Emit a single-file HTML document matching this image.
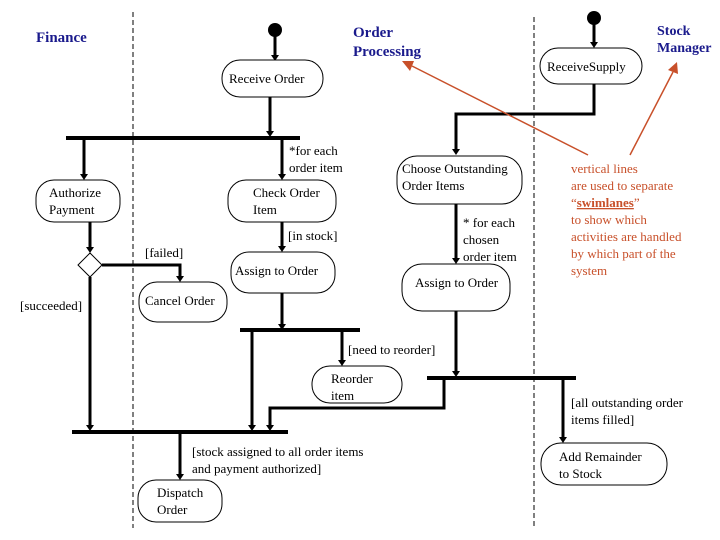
<!DOCTYPE html>
<html><head><meta charset="utf-8"><style>
html,body{margin:0;padding:0;background:#fff;width:720px;height:540px;overflow:hidden}
text{font-family:"Liberation Serif",serif;font-size:13px;fill:#000}
.t{font-weight:bold;fill:#1a1a8c;font-size:15px}
.r{fill:#c8502a}
</style></head><body>
<svg width="720" height="540" viewBox="0 0 720 540" xmlns="http://www.w3.org/2000/svg">
<defs><marker id="a" markerWidth="8" markerHeight="8" refX="4" refY="6" orient="auto" markerUnits="userSpaceOnUse"><path d="M0,0 L8,0 L4,7 z" fill="#000" transform="rotate(0)"/></marker>
<marker id="ra" markerWidth="12" markerHeight="10" refX="0" refY="5" orient="auto" markerUnits="userSpaceOnUse"><path d="M0,5 L11,0 L11,10 z" fill="#c8502a"/></marker></defs>
<g stroke="#000" stroke-dasharray="5,3" stroke-width="1">
<line x1="133" y1="12" x2="133" y2="528"/><line x1="534" y1="17" x2="534" y2="528"/></g>
<text class="t" x="36" y="42">Finance</text>
<text class="t" x="353" y="37">Order</text><text class="t" x="353" y="56">Processing</text>
<text class="t" x="657" y="35" style="font-size:14px">Stock</text><text class="t" x="657" y="52" style="font-size:14px">Manager</text>
<circle cx="275" cy="30" r="7"/><circle cx="594" cy="18" r="7"/>
<g stroke="#000" stroke-width="3" fill="none">
<line x1="275" y1="36" x2="275" y2="55"/>
<line x1="270" y1="97" x2="270" y2="132"/>
<line x1="84" y1="139" x2="84" y2="175"/>
<line x1="282" y1="139" x2="282" y2="175"/>
<line x1="282" y1="222" x2="282" y2="247"/>
<line x1="90" y1="222" x2="90" y2="248"/>
<polyline points="102,265 180,265 180,277"/>
<line x1="90" y1="277" x2="90" y2="427"/>
<line x1="282" y1="293" x2="282" y2="325"/>
<line x1="252" y1="331" x2="252" y2="427"/>
<line x1="342" y1="331" x2="342" y2="361"/>
<line x1="594" y1="24" x2="594" y2="43"/>
<polyline points="594,84 594,114 456,114 456,150"/>
<line x1="456" y1="204" x2="456" y2="259"/>
<line x1="456" y1="311" x2="456" y2="373"/>
<polyline points="444,379 444,408 270,408 270,427"/>
<line x1="563" y1="379" x2="563" y2="438"/>
<line x1="180" y1="433" x2="180" y2="475"/>
</g>
<g fill="#000">
<path d="M271,55 h8 l-4,6z"/><path d="M266,131 h8 l-4,6z"/><path d="M80,174 h8 l-4,6z"/><path d="M278,174 h8 l-4,6z"/>
<path d="M278,246 h8 l-4,6z"/><path d="M86,247 h8 l-4,6z"/><path d="M176,276 h8 l-4,6z"/><path d="M86,425 h8 l-4,6z"/>
<path d="M278,324 h8 l-4,6z"/><path d="M248,425 h8 l-4,6z"/><path d="M338,360 h8 l-4,6z"/><path d="M590,42 h8 l-4,6z"/>
<path d="M452,149 h8 l-4,6z"/><path d="M452,258 h8 l-4,6z"/><path d="M452,371 h8 l-4,6z"/><path d="M266,425 h8 l-4,6z"/>
<path d="M559,437 h8 l-4,6z"/><path d="M176,474 h8 l-4,6z"/>
<rect x="66" y="136" width="234" height="4"/><rect x="240" y="328" width="120" height="4"/>
<rect x="427" y="376" width="149" height="4"/><rect x="72" y="430" width="216" height="4"/>
</g>
<polygon points="90,253 102,265 90,277 78,265" fill="#fff" stroke="#000"/>
<g fill="#fff" stroke="#000" stroke-width="1">
<rect x="222" y="60" width="101" height="37" rx="18"/>
<rect x="36" y="180" width="84" height="42" rx="18"/>
<rect x="228" y="180" width="108" height="42" rx="18"/>
<rect x="231" y="252" width="104" height="41" rx="18"/>
<rect x="139" y="282" width="88" height="40" rx="18"/>
<rect x="312" y="366" width="90" height="37" rx="18"/>
<rect x="138" y="480" width="84" height="42" rx="18"/>
<rect x="540" y="48" width="102" height="36" rx="18"/>
<rect x="397" y="156" width="125" height="48" rx="20"/>
<rect x="402" y="264" width="108" height="47" rx="20"/>
<rect x="541" y="443" width="126" height="42" rx="20"/>
</g>
<text x="229" y="83">Receive Order</text>
<text x="49" y="197">Authorize</text><text x="49" y="214">Payment</text>
<text x="253" y="197">Check Order</text><text x="253" y="214">Item</text>
<text x="235" y="275">Assign to Order</text>
<text x="145" y="305">Cancel Order</text>
<text x="331" y="383">Reorder</text><text x="331" y="400">item</text>
<text x="157" y="497">Dispatch</text><text x="157" y="514">Order</text>
<text x="547" y="71">ReceiveSupply</text>
<text x="402" y="173">Choose Outstanding</text><text x="402" y="190">Order Items</text>
<text x="415" y="287">Assign to Order</text>
<text x="559" y="461">Add Remainder</text><text x="559" y="478">to Stock</text>
<text x="289" y="155">*for each</text><text x="289" y="172">order item</text>
<text x="288" y="240">[in stock]</text>
<text x="145" y="257">[failed]</text>
<text x="20" y="310">[succeeded]</text>
<text x="348" y="354">[need to reorder]</text>
<text x="463" y="227">* for each</text><text x="463" y="244">chosen</text><text x="463" y="261">order item</text>
<text x="571" y="407">[all outstanding order</text><text x="571" y="424">items filled]</text>
<text x="192" y="456">[stock assigned to all order items</text><text x="192" y="473">and payment authorized]</text>
<g stroke="#c8502a" stroke-width="1.5">
<line x1="588" y1="155" x2="412" y2="66"/><line x1="630" y1="155" x2="673" y2="72"/></g>
<path d="M402,61 L414,61 L410,71z" fill="#c8502a"/><path d="M677,62 L678,74 L668,70z" fill="#c8502a"/>
<text class="r" x="571" y="173">vertical lines</text>
<text class="r" x="571" y="190">are used to separate</text>
<text class="r" x="571" y="207">“<tspan font-weight="bold" text-decoration="underline">swimlanes</tspan>”</text>
<text class="r" x="571" y="224">to show which</text>
<text class="r" x="571" y="241">activities are handled</text>
<text class="r" x="571" y="258">by  which part of the</text>
<text class="r" x="571" y="275">system</text>
</svg>
</body></html>
